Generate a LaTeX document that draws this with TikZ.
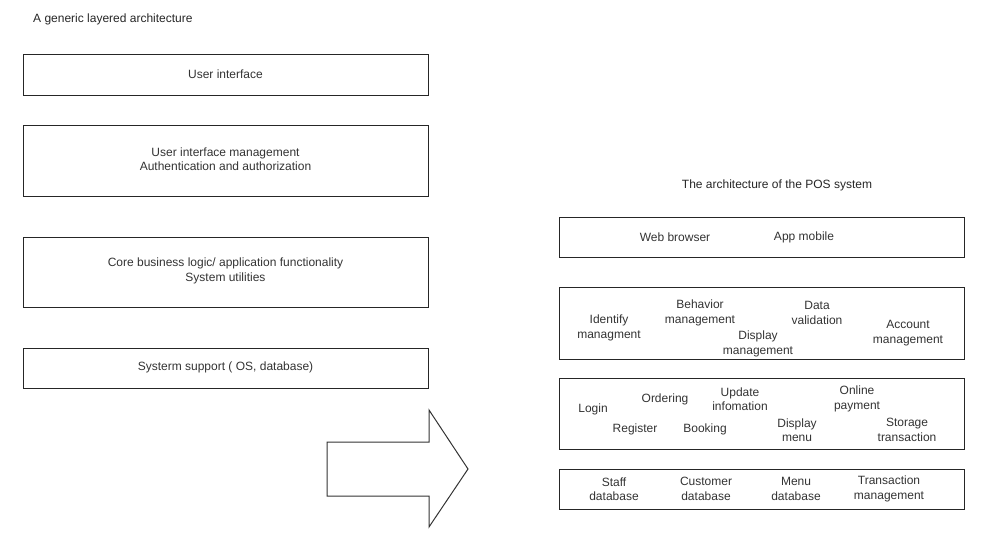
\documentclass[tikz,border=0pt]{standalone}
\usepackage{fontspec}
\setmainfont{Liberation Sans}
\begin{document}
\begin{tikzpicture}[x=1pt,y=-1pt,
  layer/.style={draw=black!85,line width=1pt,rectangle,inner sep=0pt},
  lbl/.style={text=black!80,font=\fontsize{12}{14.4}\selectfont,align=center,inner sep=0pt},
  title/.style={text=black!85,font=\fontsize{12}{14.4}\selectfont,inner sep=0pt}]
\useasboundingbox (0,0) rectangle (981,535);

% generic layered architecture (left)
\node[title,anchor=west] (gtitle) at (33,19) {A generic layered architecture};
\node[layer,minimum width=405pt,minimum height=40pt] (ui) at (225.5,75) {};
\node[layer,minimum width=405pt,minimum height=71pt] (uim) at (225.5,160.5) {};
\node[layer,minimum width=405pt,minimum height=70pt] (core) at (225.5,272) {};
\node[layer,minimum width=405pt,minimum height=40pt] (sys) at (225.5,368) {};
\node[lbl] at ([yshift=1pt]ui.center) {User interface};
\node[lbl] at ([yshift=1pt]uim.center) {User interface management\\Authentication and authorization};
\node[lbl] at ([yshift=1pt]core.center) {Core business logic/ application functionality\\System utilities};
\node[lbl] at ([yshift=1pt]sys.center) {Systerm support ( OS, database)};

% block arrow between the two stacks
\draw[draw=black!80,line width=1pt,line join=miter]
  (327,442) -- (429,442) -- (429,410) -- (468,469) -- (429,527) -- (429,496) -- (327,496) -- cycle;

% POS system architecture (right)
\node[title] (ptitle) at (777,185) {The architecture of the POS system};
\node[layer,minimum width=405pt,minimum height=40pt] (client) at (761.5,237) {};
\node[layer,minimum width=405pt,minimum height=72pt] (pres) at (761.5,323) {};
\node[layer,minimum width=405pt,minimum height=71pt] (app) at (761.5,413.5) {};
\node[layer,minimum width=405pt,minimum height=40pt] (data) at (761.5,489) {};

\node[lbl] at (675,237) {Web browser};
\node[lbl] at (804,237) {App mobile};

\node[lbl] at (609,328) {Identify\\managment};
\node[lbl] at (700,313) {Behavior\\management};
\node[lbl] at (758,344) {Display\\management};
\node[lbl] at (817,313) {Data\\validation};
\node[lbl] at (908,333) {Account\\management};

\node[lbl] at (593,409) {Login};
\node[lbl] at (665,399) {Ordering};
\node[lbl] at (740,399) {Update\\infomation};
\node[lbl] at (857,399) {Online\\payment};
\node[lbl] at (635,429) {Register};
\node[lbl] at (705,429) {Booking};
\node[lbl] at (797,430) {Display\\menu};
\node[lbl] at (907,430) {Storage\\transaction};

\node[lbl] at (614,489) {Staff\\database};
\node[lbl] at (706,489) {Customer\\database};
\node[lbl] at (796,489) {Menu\\database};
\node[lbl] at (889,489) {Transaction\\management};
\end{tikzpicture}
\end{document}
